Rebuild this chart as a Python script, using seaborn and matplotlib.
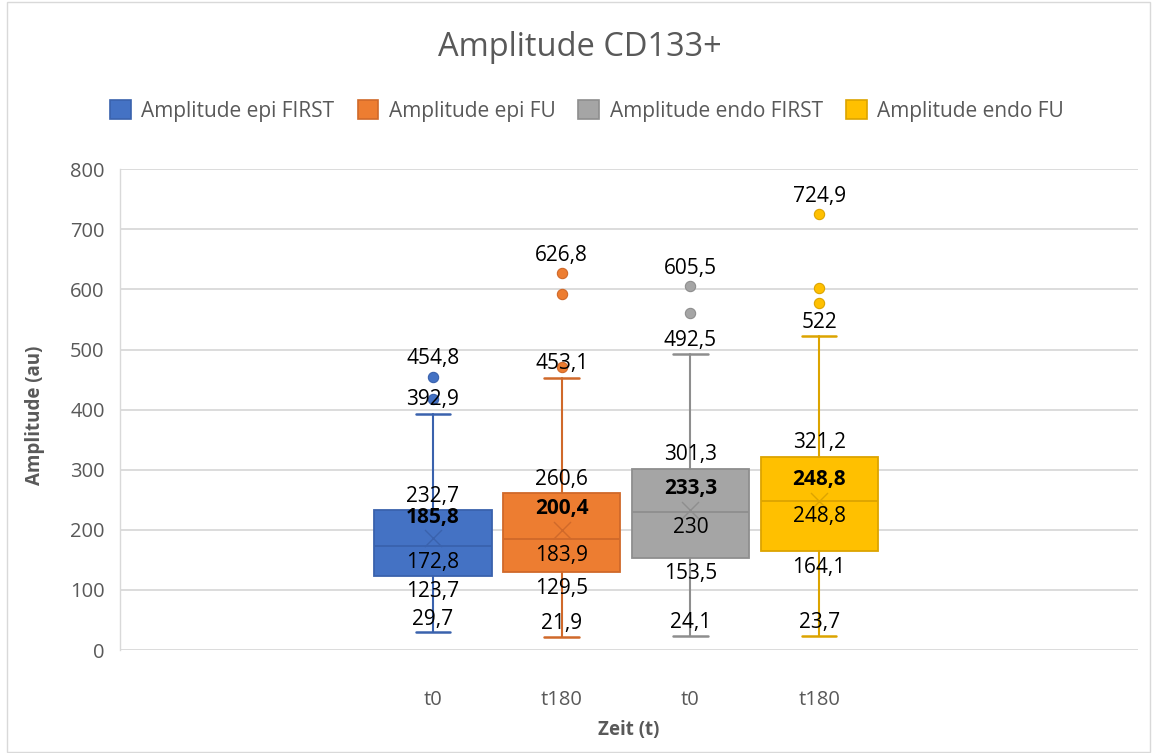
import numpy as np
import pandas as pd
import matplotlib
matplotlib.use("Agg")
import matplotlib.pyplot as plt
import seaborn as sns
from matplotlib.patches import Patch, Rectangle

# ---------------- data ----------------
series = ["Amplitude epi FIRST", "Amplitude epi FU", "Amplitude endo FIRST", "Amplitude endo FU"]
x_labels = ["t0", "t180", "t0", "t180"]
whisker_low = [29.7, 21.9, 24.1, 23.7]
q1 = [123.7, 129.5, 153.5, 164.1]
median = [172.8, 183.9, 230.0, 248.8]
mean = [185.8, 200.4, 233.3, 248.8]
q3 = [232.7, 260.6, 301.3, 321.2]
whisker_high = [392.9, 453.1, 492.5, 522.0]
outliers = [[454.8, 418.0], [626.8, 592.0, 471.0], [605.5, 561.0], [724.9, 602.0, 578.0]]

colors = ["#4472C4", "#ED7D31", "#A5A5A5", "#FFC000"]
edge_colors = ["#3A62AD", "#D0692A", "#8E8E8E", "#DCA400"]

# ---------------- style ----------------
sns.set_theme(style="white")
plt.rcParams["font.family"] = ["Open Sans", "DejaVu Sans"]
TXT = "#595959"

W, H = 1153, 753
fig = plt.figure(figsize=(W / 100, H / 100), dpi=100)
fig.patch.set_facecolor("white")

left, right, top, bottom = 120, 1138, 169.3, 650
ax = fig.add_axes([left / W, 1 - bottom / H, (right - left) / W, (bottom - top) / H])

positions = np.arange(len(series))
spacing = 128.7
c0 = 433
ax.set_xlim((left - c0) / spacing, (right - c0) / spacing)
ax.set_ylim(0, 800)

# grid
ax.set_yticks(np.arange(0, 801, 100))
ax.yaxis.grid(True, color="#D9D9D9", linewidth=1.3)
ax.xaxis.grid(False)
ax.set_axisbelow(True)
for s in ["top", "right", "bottom"]:
    ax.spines[s].set_visible(False)
ax.spines["left"].set_color("#D9D9D9")
ax.spines["left"].set_linewidth(1.0)
ax.tick_params(axis="y", length=0, pad=11, labelsize=14.5, labelcolor=TXT)
ax.set_xticks(positions)
ax.set_xticklabels(x_labels)
ax.tick_params(axis="x", length=0, pad=29, labelsize=14.5, labelcolor=TXT)

# boxes
for i in range(len(series)):
    stats = [dict(med=median[i], q1=q1[i], q3=q3[i], whislo=whisker_low[i],
                  whishi=whisker_high[i], fliers=[], mean=mean[i], label=series[i])]
    ax.bxp(stats, positions=[positions[i]], widths=0.91, capwidths=0.27,
           patch_artist=True, showfliers=False, showmeans=False,
           boxprops=dict(facecolor=colors[i], edgecolor=edge_colors[i], linewidth=1.3),
           medianprops=dict(color=edge_colors[i], linewidth=1.3),
           whiskerprops=dict(color=edge_colors[i], linewidth=1.5),
           capprops=dict(color=edge_colors[i], linewidth=1.8),
           manage_ticks=False, zorder=3)

# outliers (seaborn)
for i in range(len(series)):
    df = pd.DataFrame({"pos": [positions[i]] * len(outliers[i]), "value": outliers[i]})
    sns.scatterplot(data=df, x="pos", y="value", color=colors[i], s=55,
                    edgecolor=edge_colors[i], linewidth=0.8, ax=ax, zorder=4, legend=False)

# means
for i in range(len(series)):
    ax.scatter([positions[i]], [mean[i]], marker="x", s=150, color=edge_colors[i],
               linewidths=1.0, zorder=5)

ax.set_xlabel("")
ax.set_ylabel("")


def fmt(v):
    return ("%g" % v).replace(".", ",")


def label(x, y, dy_px, bold=False):
    ax.annotate(fmt(y), xy=(x, y), xytext=(0, dy_px * 0.72), textcoords="offset points",
                ha="center", va="center", fontsize=15, color="black",
                fontweight="bold" if bold else "normal", zorder=6)


for i in range(len(series)):
    p = positions[i]
    label(p, max(outliers[i]), 18)
    label(p, whisker_high[i], 14)
    label(p, q3[i], 14)
    label(p, mean[i], 21, bold=True)
    label(p, median[i], -16)
    label(p, q1[i], -16)
    label(p, whisker_low[i], 13)

# titles
fig.text(580 / W, 1 - 47 / H, "Amplitude CD133+", ha="center", va="center",
         fontsize=23.5, color=TXT)
fig.text(629 / W, 1 - 730 / H, "Zeit (t)", ha="center", va="center",
         fontsize=13.5, fontweight="bold", color=TXT)
fig.text(35 / W, 1 - 415 / H, "Amplitude (au)", ha="center", va="center",
         rotation=90, fontsize=13.5, fontweight="bold", color=TXT)

# legend
handles = [Patch(facecolor=colors[i], edgecolor=edge_colors[i], linewidth=1.2) for i in range(len(series))]
fig.legend(handles, series, loc="center", bbox_to_anchor=(587 / W, 1 - 111 / H), ncol=4,
           frameon=False, fontsize=15, handlelength=1.0, handleheight=1.0,
           handletextpad=0.5, columnspacing=1.1, labelcolor=TXT)

# chart border
fig.patches.append(Rectangle((7 / W, 1 / H), (1150 - 7) / W, (751 - 1) / H,
                             transform=fig.transFigure, fill=False,
                             edgecolor="#D9D9D9", linewidth=1.0))

fig.savefig("out.png", dpi=100)
